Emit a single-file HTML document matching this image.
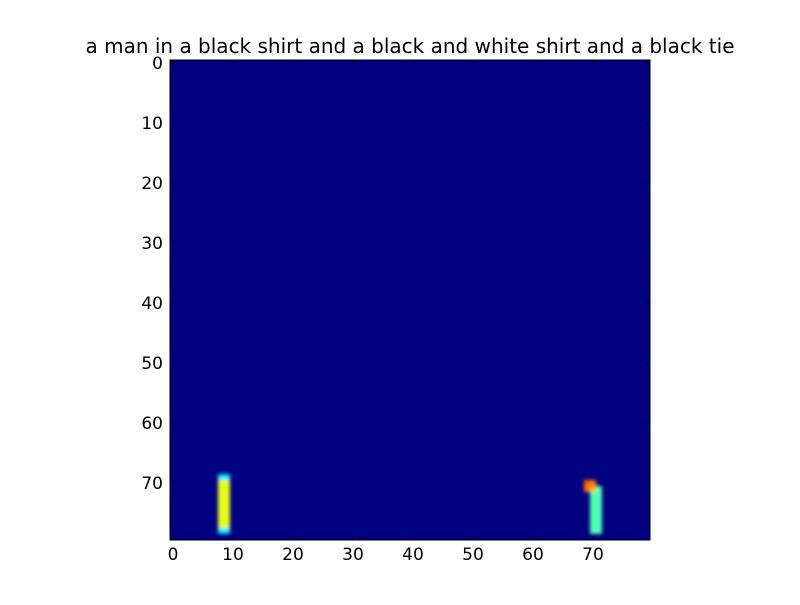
<!DOCTYPE html>
<html><head><meta charset="utf-8"><style>
body{margin:0;background:#fff;font-family:"Liberation Sans","DejaVu Sans",sans-serif;}
svg text{font-family:"DejaVu Sans","Liberation Sans",sans-serif;}
</style></head><body>
<svg id="chart" width="800" height="600" xmlns="http://www.w3.org/2000/svg">
<rect width="800" height="600" fill="#fff"/>
<text x="410" y="53" font-size="20" text-anchor="middle">a man in a black shirt and a black and white shirt and a black tie</text>
<defs>
<filter id="blur" x="-0.1" y="-0.1" width="1.2" height="1.2"><feGaussianBlur stdDeviation="1.9"/></filter>
<clipPath id="clip"><rect x="170" y="60" width="480" height="480"/></clipPath>
</defs>
<rect x="170" y="60" width="480" height="480" fill="#000080"/>
<g id="cells" clip-path="url(#clip)" filter="url(#blur)"></g>
<rect x="170" y="60" width="480" height="480" fill="none" stroke="#000" stroke-width="1"/>
<g id="axes"></g>
</svg>
<script>
const cellCols = [8,9,8,9,8,9,8,9,8,9,8,9,8,9,8,9,8,9,8,9, 69,70,69,70, 70,70,70,70,70,70,70, 71,71,71,71,71,71,71,71];
const cellRows = [69,69,70,70,71,71,72,72,73,73,74,74,75,75,76,76,77,77,78,78, 70,70,71,71, 72,73,74,75,76,77,78, 71,72,73,74,75,76,77,78];
const cellValues = [0.35,0.35,0.6,0.6,0.6,0.6,0.6,0.6,0.6,0.6,0.6,0.6,0.6,0.6,0.6,0.6,0.6,0.6,0.35,0.35, 0.78,0.76,0.76,0.7, 0.45,0.45,0.45,0.45,0.45,0.45,0.45, 0.45,0.45,0.45,0.45,0.45,0.45,0.45,0.45];
const xTicks = [0,10,20,30,40,50,60,70];
const yTicks = [0,10,20,30,40,50,60,70];
const x0=170,y0=60,cs=6;
const xs = v => x0 + (v+0.5)*cs;
const ys = v => y0 + (v+0.5)*cs;
function jet(v){
  const c=t=>Math.round(255*Math.max(0,Math.min(1,t)));
  return `rgb(${c(1.5-Math.abs(4*v-3))},${c(1.5-Math.abs(4*v-2))},${c(1.5-Math.abs(4*v-1))})`;
}
const NS="http://www.w3.org/2000/svg";
const g=document.getElementById('cells');
for(let i=0;i<cellValues.length;i++){
  const r=document.createElementNS(NS,'rect');
  
  
  r.setAttribute('x',xs(cellCols[i])-cs/2);
  r.setAttribute('y',ys(cellRows[i])-cs/2);
  r.setAttribute('width',cs);r.setAttribute('height',cs);
  r.setAttribute('fill',jet(cellValues[i]));
  g.appendChild(r);
}
const a=document.getElementById('axes');
xTicks.forEach(t=>{
  const X=xs(t);
  [[540,536],[60,64]].forEach(([p,q])=>{
    const l=document.createElementNS(NS,'line');
    
    
    l.setAttribute('x1',X);l.setAttribute('x2',X);l.setAttribute('y1',p);l.setAttribute('y2',q);l.setAttribute('stroke','#000');
    a.appendChild(l);
  });
  const tx=document.createElementNS(NS,'text');
  
  
  tx.setAttribute('x',X);tx.setAttribute('y',560);tx.setAttribute('font-size','17');tx.setAttribute('text-anchor','middle');
  tx.textContent=t;a.appendChild(tx);
});
yTicks.forEach(t=>{
  const Y=ys(t);
  [[170,174],[650,646]].forEach(([p,q])=>{
    const l=document.createElementNS(NS,'line');
    
    
    l.setAttribute('x1',p);l.setAttribute('x2',q);l.setAttribute('y1',Y);l.setAttribute('y2',Y);l.setAttribute('stroke','#000');
    a.appendChild(l);
  });
  const tx=document.createElementNS(NS,'text');
  
  
  tx.setAttribute('x',163);tx.setAttribute('y',Y+6);tx.setAttribute('font-size','17');tx.setAttribute('text-anchor','end');
  tx.textContent=t;a.appendChild(tx);
});
</script>
</body></html>
